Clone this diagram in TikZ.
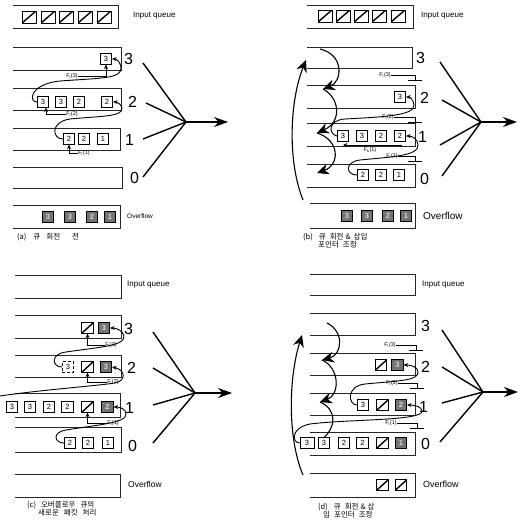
\documentclass[tikz,border=0pt]{standalone}
\usepackage{fontspec}
\setmainfont{Liberation Sans}
\newfontfamily\krfont{Noto Sans CJK KR}
\usetikzlibrary{arrows.meta}
\tikzset{
 qline/.style={line width=0.7pt, black!85},
 cell/.style={draw, line width=0.6pt, minimum width=11.5pt, minimum height=10.5pt, inner sep=0pt, font=\fontsize{7.5}{7.5}\selectfont},
 dcell/.style={cell, densely dashed},
 hcell/.style={cell, path picture={\draw[line width=1.4pt] (path picture bounding box.south west) -- (path picture bounding box.north east);}},
 kcell/.style={cell, fill=black!55, text=white!85!black, font=\fontsize{7.5}{7.5}\selectfont\bfseries},
 inbox/.style={hcell, minimum width=14pt, minimum height=12pt},
 lvl/.style={font=\fontsize{16}{16}\selectfont, inner sep=0pt, anchor=west},
 qname/.style={font=\fontsize{8}{8}\selectfont, inner sep=0pt, anchor=west},
 flab/.style={font=\fontsize{5.5}{6}\selectfont, inner sep=0.5pt},
 link/.style={line width=0.9pt, -{Stealth[length=4.5pt,width=4pt]}},
 ptr/.style={line width=0.8pt, -{Stealth[length=4.5pt,width=4pt]}},
 fan/.style={line width=1.4pt},
 outarr/.style={line width=1.4pt, -{Stealth[length=14pt,width=10pt]}},
 wave/.style={line width=1.1pt, -{Stealth[length=12pt,width=11pt,inset=4pt]}},
 tickln/.style={line width=0.7pt},
 captxt/.style={font=\krfont\fontsize{7.5}{8.5}\selectfont, inner sep=0pt, anchor=north west, align=left},
}
\begin{document}
\begin{tikzpicture}[x=1pt,y=-1pt]
\useasboundingbox (0,0) rectangle (521,522);

% ================= (a) =================
\draw[qline] (13,5) -- (118,5) -- (118,28) -- (13,28);
\node[inbox] (ain1) at (29,17) {};
\node[inbox] (ain2) at (48,17) {};
\node[inbox] (ain3) at (66,17) {};
\node[inbox] (ain4) at (85,17) {};
\node[inbox] (ain5) at (104,17) {};
\node[qname] (aiq) at (133,16) {Input queue};

\draw[qline] (13,47) -- (121,47) -- (121,70) -- (13,70);
\node[cell] (a3a) at (106,59) {3};
\node[lvl] (a3l) at (124,59) {3};

\draw[qline] (13,88) -- (121,88) -- (121,110) -- (13,110);
\node[cell] (a2a) at (43,102) {3};
\node[cell] (a2b) at (61,102) {3};
\node[cell] (a2c) at (79,102) {2};
\node[cell] (a2d) at (107,102) {2};
\node[lvl] (a2l) at (128,102) {2};

\draw[qline] (13,128) -- (120,128) -- (120,150) -- (13,150);
\node[cell] (a1a) at (69,139) {2};
\node[cell] (a1b) at (84,139) {2};
\node[cell] (a1c) at (103,139) {1};
\node[lvl] (a1l) at (125,140) {1};

\draw[qline] (13,167) -- (122,167) -- (122,188) -- (13,188);
\node[lvl] (a0l) at (130,178) {0};

\draw[qline] (13,205) -- (120,205) -- (120,228) -- (13,228);
\node[kcell] (ao1) at (48,217) {3};
\node[kcell] (ao2) at (70,217) {3};
\node[kcell] (ao3) at (92,217) {2};
\node[kcell] (ao4) at (110,217) {1};
\node[qname,font=\fontsize{6.5}{6.5}\selectfont] (aof) at (127,216) {Overflow};

\coordinate (a3s) at (143,63);
\coordinate (a2s) at (146,103);
\coordinate (a1s) at (143,139);
\coordinate (a0s) at (143,177);
\coordinate (aJ) at (186,122);
\coordinate (aT) at (228,122);
\draw[fan] (a3s) -- (aJ);
\draw[fan] (a2s) -- (aJ);
\draw[fan] (a1s) -- (aJ);
\draw[fan] (a0s) -- (aJ);
\draw[outarr] (aJ) -- (aT);

\node[flab] (aF3) at (72,76) {F\textsubscript{i}(3)};
\draw[ptr] (aF3.east) -| (a3a.south);
\node[flab] (aF2) at (72,114) {F\textsubscript{i}(2)};
\draw[ptr] (aF2.west) -| ([xshift=3pt]a2a.south);
\node[flab] (aF1) at (84,153) {F\textsubscript{i}(1)};
\draw[ptr] (aF1.west) -| (a1a.south);

\draw[link] (a2a.west) .. controls (28,102) and (30,84) .. (60,81) .. controls (100,78) and (123,79) .. (121,67) .. controls (120,61) and (116,59) .. (a3a.east);
\draw[link] (a1a.west) .. controls (52,139) and (50,122) .. (70,119) .. controls (100,116) and (123,117) .. (122,108) .. controls (121,104) and (117,102) .. (a2d.east);

\node[captxt] (capa) at (17,233) {(a)\hspace{7pt}큐\hspace{6pt}회전\hspace{12pt}전};

% ================= (b) =================
\draw[qline] (307,5) -- (413,5) -- (413,28) -- (307,28);
\node[inbox] (bin1) at (325,16) {};
\node[inbox] (bin2) at (343,16) {};
\node[inbox] (bin3) at (361,16) {};
\node[inbox] (bin4) at (379,16) {};
\node[inbox] (bin5) at (398,16) {};
\node[qname] (biq) at (421,16) {Input queue};

\draw[qline] (307,47) -- (412,47) -- (412,68) -- (307,68);
\node[lvl] (b3l) at (416,58) {3};

\draw[qline] (307,85) -- (415,85) -- (415,108) -- (307,108);
\node[cell] (b2a) at (400,97) {3};
\node[lvl] (b2l) at (420,98) {2};

\draw[qline] (307,123) -- (415,123) -- (415,146) -- (307,146);
\node[cell] (b1a) at (343,136) {3};
\node[cell] (b1b) at (362,136) {3};
\node[cell] (b1c) at (381,136) {2};
\node[cell] (b1d) at (400,136) {2};
\node[lvl] (b1l) at (418,137) {1};

\draw[qline] (307,164) -- (415,164) -- (415,187) -- (307,187);
\node[cell] (b0a) at (363,175) {2};
\node[cell] (b0b) at (381,175) {2};
\node[cell] (b0c) at (399,175) {1};
\node[lvl] (b0l) at (420,179) {0};

\draw[qline] (310,203) -- (415,203) -- (415,228) -- (310,228);
\node[kcell] (bo1) at (347,216) {3};
\node[kcell] (bo2) at (367,216) {3};
\node[kcell] (bo3) at (388,216) {2};
\node[kcell] (bo4) at (406,216) {1};
\node[qname,font=\fontsize{10}{10}\selectfont] (bof) at (423,216) {Overflow};

\coordinate (b3s) at (440,62);
\coordinate (b2s) at (442,100);
\coordinate (b1s) at (440,145);
\coordinate (b0s) at (442,176);
\coordinate (bJ) at (481,122);
\coordinate (bT) at (517,122);
\draw[fan] (b3s) -- (bJ);
\draw[fan] (b2s) -- (bJ);
\draw[fan] (b1s) -- (bJ);
\draw[fan] (b0s) -- (bJ);
\draw[outarr] (bJ) -- (bT);

\node[flab] (bF3) at (385,75) {F\textsubscript{i}(3)};
\draw[tickln] (bF3.east) -- (415,75) -- (415,80) (408,80) -- (422,80);
\node[flab] (bF2) at (388,117) {F\textsubscript{i}(2)};
\draw[tickln] (bF2.east) -- (415,117) -- (415,122) (408,122) -- (422,122);
\node[flab] (bFk) at (370,150) {F\textsubscript{k}(1)};
\coordinate (bk1) at (402,145);
\draw[ptr] (bk1) -- (b1a.south |- bk1);
\node[flab] (bF1) at (392,156) {F\textsubscript{i}(1)};
\draw[tickln] (bF1.east) -- (415,156) -- (415,161) (408,161) -- (422,161);

\coordinate (bLs) at (303,200);
\coordinate (bLe) at (306,60);
\draw[wave] (bLs) .. controls (287,160) and (290,100) .. (bLe);
\coordinate (bW0) at (320,49);
\coordinate (bW1) at (323,89);
\coordinate (bW2) at (317,133);
\coordinate (bW3) at (317,173);
\draw[wave] (bW0) .. controls (345,55) and (342,82) .. (bW1);
\draw[wave] (bW1) .. controls (340,98) and (342,122) .. (bW2);
\draw[wave] (bW2) .. controls (340,140) and (340,165) .. (bW3);

\draw[link] (b1a.west) .. controls (328,134) and (328,120) .. (345,119) .. controls (380,117) and (415,116) .. (414,105) .. controls (413,99) and (410,97) .. (b2a.east);
\draw[link] (b0a.west) .. controls (346,175) and (344,162) .. (360,160) .. controls (390,157) and (419,156) .. (418,145) .. controls (418,139) and (412,136) .. (b1d.east);

\node[captxt] (capb) at (303,233) {(b)\hspace{6pt}큐\hspace{4pt}회전\hspace{2pt}\&\hspace{3pt}삽입\\\hspace{15pt}포인터\hspace{4pt}조정};

% ================= (c) =================
\draw[qline] (15,275) -- (121,275) -- (121,298) -- (15,298);
\node[qname] (ciq) at (127,285) {Input queue};

\draw[qline] (15,315) -- (121,315) -- (121,338) -- (15,338);
\node[hcell] (c3a) at (87.5,328) {};
\node[kcell] (c3b) at (104,328) {3};
\node[lvl] (c3l) at (124,329) {3};

\draw[qline] (15,355) -- (121,355) -- (121,377) -- (15,377);
\node[dcell] (c2a) at (68,367) {3};
\node[hcell] (c2b) at (87.5,367) {};
\node[kcell] (c2c) at (106,367) {3};
\node[lvl] (c2l) at (127,368) {2};

\draw[qline] (15,393) -- (120,393) -- (120,417) -- (15,417);
\node[cell] (c1a) at (12,407) {3};
\node[cell] (c1b) at (30,407) {3};
\node[cell] (c1c) at (49,407) {2};
\node[cell] (c1d) at (67.5,407) {2};
\node[hcell] (c1e) at (87.5,407) {};
\node[kcell] (c1f) at (107.5,407) {2};
\node[lvl] (c1l) at (125,408) {1};

\draw[qline] (15,427) -- (121,427) -- (121,452) -- (15,452);
\node[cell] (c0a) at (70,443) {2};
\node[cell] (c0b) at (88,443) {2};
\node[cell] (c0c) at (108,443) {1};
\node[lvl] (c0l) at (128,446) {0};

\draw[qline] (15,474) -- (120,474) -- (120,497) -- (15,497);
\node[qname,font=\fontsize{8.5}{8.5}\selectfont] (cof) at (128,484) {Overflow};

\coordinate (c3s) at (153,332);
\coordinate (c2s) at (153,368);
\coordinate (c1s) at (153,405);
\coordinate (c0s) at (153,443);
\coordinate (cJ) at (195,393);
\coordinate (cT) at (232,393);
\draw[fan] (c3s) -- (cJ);
\draw[fan] (c2s) -- (cJ);
\draw[fan] (c1s) -- (cJ);
\draw[fan] (c0s) -- (cJ);
\draw[outarr] (cJ) -- (cT);

\node[flab] (cF3) at (111,345) {F\textsubscript{i}(3)};
\draw[ptr] (cF3.west) -| (c3a.south);
\node[flab] (cF2) at (113,382) {F\textsubscript{i}(2)};
\draw[ptr] (cF2.west) -| (c2b.south);
\node[flab] (cF1) at (113,423) {F\textsubscript{i}(1)};
\draw[ptr] (cF1.west) -| (c1e.south);

\draw[link] (c2a.west) .. controls (52,367) and (50,354) .. (66,352) .. controls (100,347) and (125,346) .. (124,336) .. controls (123,331) and (117,328) .. (c3b.east);
\coordinate (cX) at (0,396);
\draw[link] (cX) .. controls (40,390) and (95,386) .. (115,383) .. controls (126,381) and (126,370) .. (c2c.east);
\draw[link] (c0a.west) .. controls (54,443) and (52,432) .. (66,430) .. controls (96,425) and (127,423) .. (126,414) .. controls (126,409) and (120,407) .. (c1f.east);

\node[captxt] (capc) at (27,501) {(c)\hspace{5pt}오버플로우\hspace{5pt}큐의\\\hspace{11pt}새로운\hspace{5pt}패킷\hspace{5pt}처리};

% ================= (d) =================
\draw[qline] (310,274) -- (415,274) -- (415,295) -- (310,295);
\node[qname] (diq) at (422,285) {Input queue};

\draw[qline] (310,313) -- (415,313) -- (415,335) -- (310,335);
\node[lvl] (d3l) at (421,326) {3};

\draw[qline] (310,353) -- (415,353) -- (415,375) -- (310,375);
\node[hcell] (d2a) at (381,365) {};
\node[kcell] (d2b) at (397.5,365) {3};
\node[lvl] (d2l) at (421,367) {2};

\draw[qline] (310,393) -- (415,393) -- (415,415) -- (310,415);
\node[cell] (d1a) at (363,405) {3};
\node[hcell] (d1b) at (382.5,405) {};
\node[kcell] (d1c) at (401,405) {2};
\node[lvl] (d1l) at (419,407) {1};

\draw[qline] (310,432) -- (415,432) -- (415,455) -- (310,455);
\node[cell,minimum width=14pt] (d0a) at (307,443) {3};
\node[cell] (d0b) at (324,443) {3};
\node[cell] (d0c) at (344,443) {2};
\node[cell] (d0d) at (362.5,443) {2};
\node[hcell] (d0e) at (382.5,443) {};
\node[kcell] (d0f) at (401,443) {1};
\node[lvl] (d0l) at (421,444) {0};

\draw[qline] (310,473) -- (415,473) -- (415,497) -- (310,497);
\node[hcell] (do1) at (382.5,485) {};
\node[hcell] (do2) at (401,485) {};
\node[qname,font=\fontsize{9}{9}\selectfont] (dof) at (423,484) {Overflow};

\coordinate (d3s) at (442,330);
\coordinate (d2s) at (442,367);
\coordinate (d1s) at (442,403);
\coordinate (d0s) at (440,442);
\coordinate (dJ) at (483,392);
\coordinate (dT) at (518,392);
\draw[fan] (d3s) -- (dJ);
\draw[fan] (d2s) -- (dJ);
\draw[fan] (d1s) -- (dJ);
\draw[fan] (d0s) -- (dJ);
\draw[outarr] (dJ) -- (dT);

\node[flab] (dF3) at (390,345) {F\textsubscript{i}(3)};
\draw[tickln] (dF3.east) -- (416,345) -- (416,350) (409,350) -- (423,350);
\node[flab] (dF2) at (392,383) {F\textsubscript{i}(2)};
\draw[tickln] (dF2.east) -- (417,383) -- (417,388) (410,388) -- (424,388);
\node[flab] (dF1) at (391,423) {F\textsubscript{i}(1)};
\draw[tickln] (dF1.east) -- (417,423) -- (417,428) (410,428) -- (424,428);

\coordinate (dLs) at (303,475);
\coordinate (dLe) at (302,335);
\draw[wave] (dLs) .. controls (288,440) and (288,380) .. (dLe);
\coordinate (dW0) at (327,323);
\coordinate (dW1) at (322,360);
\coordinate (dW2) at (320,402);
\draw[wave] (dW0) .. controls (345,332) and (342,355) .. (dW1);
\draw[wave] (dW1) .. controls (340,368) and (340,395) .. (dW2);
\draw[line width=1.1pt] (dW2) .. controls (338,410) and (335,428) .. (d0b.north);

\draw[link] (d1a.west) .. controls (348,405) and (346,386) .. (365,384) .. controls (395,381) and (419,381) .. (418,372) .. controls (418,367) and (411,365) .. (d2b.east);
\draw[link] (d0a.west) .. controls (292,443) and (290,428) .. (310,424) .. controls (350,419) and (423,421) .. (422,411) .. controls (422,407) and (415,405) .. (d1c.east);

\node[captxt] (capd) at (318,503) {(d)\hspace{6pt}큐\hspace{4pt}회전\hspace{2pt}\&\hspace{2pt}삽\\\hspace{5pt}입\hspace{4pt}포인터\hspace{4pt}조정};
\end{tikzpicture}
\end{document}
